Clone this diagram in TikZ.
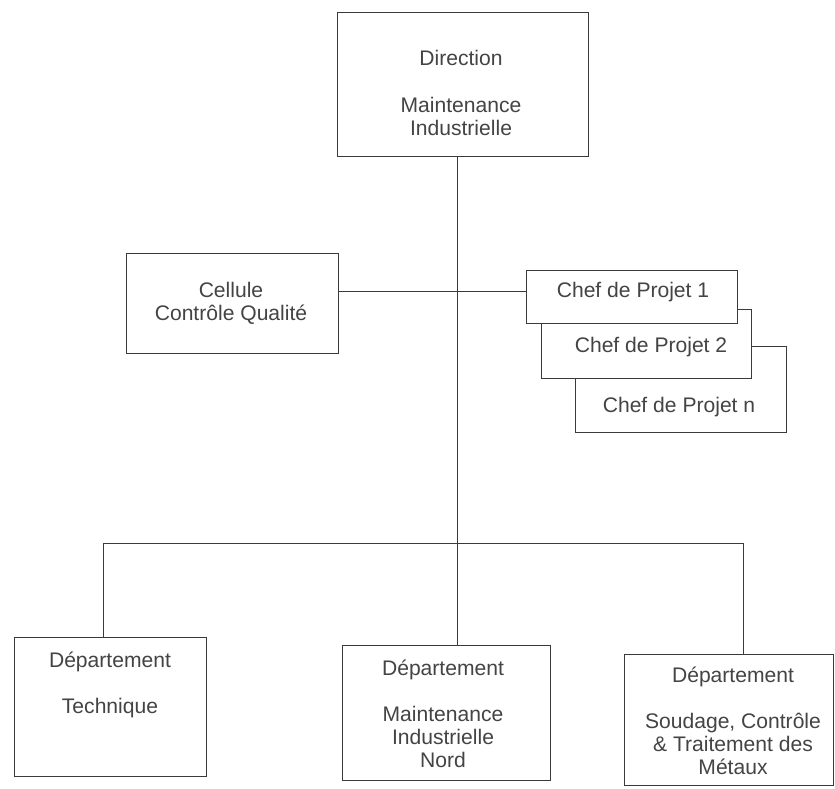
\documentclass[tikz,border=0pt]{standalone}
\usepackage{fontspec}
\setmainfont{Liberation Sans}
\usetikzlibrary{calc}
\definecolor{ink}{HTML}{3A3A3A}
\definecolor{txt}{HTML}{444444}
\begin{document}
\begin{tikzpicture}[x=0.3mm,y=-0.3mm,
  box/.style={draw=ink, line width=0.8pt, fill=white, rectangle, inner sep=0pt, outer sep=0pt},
  lbl/.style={text=txt, inner sep=0pt, outer sep=0pt, align=center, font=\fontsize{18}{19.6}\selectfont},
  conn/.style={draw=ink, line width=0.8pt}]
\useasboundingbox (0,0) rectangle (835,788);
\fill[white] (0,0) rectangle (835,788);

% boxes
\node[box, minimum width=75.3mm, minimum height=43.2mm] (dir) at (462.5,84) {};
\node[box, minimum width=63.6mm, minimum height=30mm] (cel) at (232,303) {};
\node[box, minimum width=63.3mm, minimum height=25.8mm] (cn) at (680.5,389) {};
\node[box, minimum width=63mm, minimum height=20.7mm] (c2) at (646,343.5) {};
\node[box, minimum width=63.3mm, minimum height=15.9mm] (c1) at (631.5,296.5) {};
\node[box, minimum width=57.6mm, minimum height=41.7mm] (d1) at (110,706.5) {};
\node[box, minimum width=62.4mm, minimum height=40.5mm] (d2) at (446,712.5) {};
\node[box, minimum width=62.7mm, minimum height=39.3mm] (d3) at (728.5,719.5) {};

% texts
\node[lbl, anchor=north] (tdir) at (461,50) {Direction\\[7.2mm]Maintenance\\Industrielle};
\node[lbl, anchor=north] (tcel) at (231,282) {Cellule\\Contrôle Qualité};
\node[lbl, anchor=base] (tc1) at (633,297) {Chef de Projet 1};
\node[lbl, anchor=base] (tc2) at (651,352) {Chef de Projet 2};
\node[lbl, anchor=base] (tcn) at (679,412) {Chef de Projet n};
\node[lbl, anchor=north] (td1) at (110,652) {Département\\[7mm]Technique};
\node[lbl, anchor=north] (td2) at (443,660) {Département\\[7mm]Maintenance\\Industrielle\\Nord};
\node[lbl, anchor=north] (td3) at (733,667) {Département\\[7mm]Soudage, Contrôle\\\& Traitement des\\Métaux};

% connectors
\coordinate (trunk) at (457,543);
\coordinate (busL) at (103,543);
\coordinate (busR) at (743,543);
\coordinate (cpj) at ($(c1.west)+(0,-5)$);
\draw[conn] (trunk |- dir.south) -- (trunk |- d2.north);
\draw[conn] (busL |- d1.north) -- (busL) -- (busR) -- (busR |- d3.north);
\draw[conn] (cpj -| cel.east) -- (cpj);
\end{tikzpicture}
\end{document}
